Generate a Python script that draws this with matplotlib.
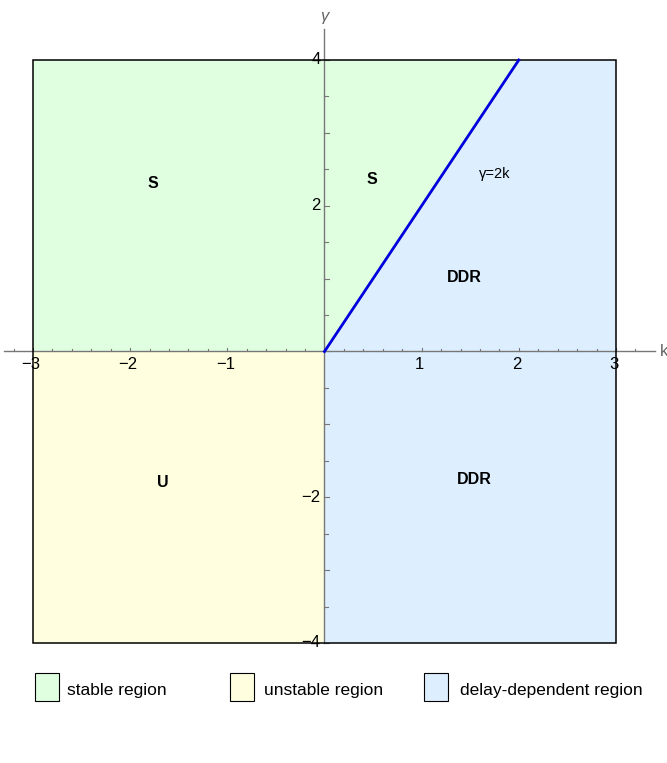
import matplotlib
matplotlib.use("Agg")
import matplotlib.pyplot as plt
from matplotlib.patches import Polygon, Rectangle

# region polygons (k, gamma)
stable_k = [-3, 2, 0, 0, -3]
stable_g = [4, 4, 0, 0, 0]
unstable_k = [-3, 0, 0, -3]
unstable_g = [0, 0, -4, -4]
ddr_k = [0, 2, 3, 3, 0]
ddr_g = [0, 4, 4, -4, -4]

# boundary line gamma = 2k
line_k = [0, 2]
line_g = [0, 4]

# text labels
labels = ["S", "S", "DDR", "U", "DDR"]
label_k = [-1.77, 0.49, 1.44, -1.66, 1.54]
label_g = [2.31, 2.36, 1.02, -1.80, -1.76]

legend_names = ["stable region", "unstable region", "delay-dependent region"]

c_green = "#e0ffe0"
c_yellow = "#ffffe0"
c_blue = "#ddeeff"

plt.rcParams['font.family'] = ['Liberation Sans', 'DejaVu Sans']

fig = plt.figure(figsize=(6.67, 7.63), dpi=100)
ax = fig.add_axes([0, 0, 1, 1])
ax.set_xlim(-3.3396, 3.525)
ax.set_ylim(-5.647, 4.823)
ax.axis("off")

ax.add_patch(Polygon(list(zip(stable_k, stable_g)), closed=True, fc=c_green, ec="none", zorder=1))
ax.add_patch(Polygon(list(zip(unstable_k, unstable_g)), closed=True, fc=c_yellow, ec="none", zorder=1))
ax.add_patch(Polygon(list(zip(ddr_k, ddr_g)), closed=True, fc=c_blue, ec="none", zorder=1))
ax.add_patch(Rectangle((-3, -4), 6, 8, fill=False, ec="black", lw=1.1, zorder=4))

# axes through origin
ax.plot([-3.3, 3.4], [0, 0], color="#777777", lw=1, zorder=3)
ax.plot([0, 0], [-4, 4.43], color="#777777", lw=1, zorder=3)

for i in range(-16, 18):
    x = i * 0.2
    if x < -3.25 or x > 3.35:
        continue
    h = 0.045 if i % 5 == 0 else 0.03
    ax.plot([x, x], [0, h], color="#777777", lw=0.8, zorder=3)
for i in range(-8, 9):
    y = i * 0.5
    w = 0.05 if i % 2 == 0 else 0.035
    ax.plot([0, w], [y, y], color="#777777", lw=0.8, zorder=3)

for v in [-3, -2, -1, 1, 2, 3]:
    s = str(v).replace("-", "\u2212")
    ax.text(v - 0.02, -0.07, s, ha="center", va="top", fontsize=12, zorder=5)
for v in [-4, -2, 2, 4]:
    s = str(v).replace("-", "\u2212")
    ax.text(-0.04, v, s, ha="right", va="center", fontsize=12, zorder=5)

ax.text(3.45, 0, "k", ha="left", va="center", fontsize=12, color="#666666")
ax.text(0, 4.5, "\u03b3", ha="center", va="bottom", fontsize=12, color="#666666", style="italic")

ax.plot(line_k, line_g, color="#0000dd", lw=2, zorder=5)
ax.text(1.75, 2.44, "\u03b3=2k", ha="center", va="center", fontsize=10.5, zorder=5)

for t, x, y in zip(labels, label_k, label_g):
    ax.text(x, y, t, ha="center", va="center", fontsize=11.5, fontweight="bold", zorder=5)

# legend in figure pixels
box_x = [35, 230, 424]
text_x = [67, 264, 460]
for bx, tx, name, col in zip(box_x, text_x, legend_names, [c_green, c_yellow, c_blue]):
    fig.patches.append(Rectangle((bx / 667, 1 - 701 / 763), 24 / 667, 28 / 763,
                                 transform=fig.transFigure, fc=col, ec="black", lw=0.8))
    fig.text(tx / 667, 1 - 690 / 763, name, ha="left", va="center", fontsize=12.5)

fig.savefig("out.png", dpi=100)
